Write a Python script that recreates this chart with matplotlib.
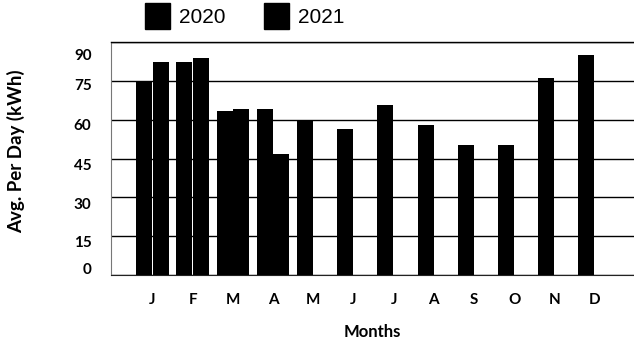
import matplotlib
matplotlib.use("Agg")
import matplotlib.pyplot as plt
from matplotlib.patches import Patch
from matplotlib import font_manager
import matplotlib.transforms as mtransforms
import numpy as np

months = ["J", "F", "M", "A", "M", "J", "J", "A", "S", "O", "N", "D"]
usage_2020 = [74.7, 82.2, 63.4, 64.3, 59.3, 56.4, 65.8, 58.1, 50.3, 50.3, 76.0, 84.8]
usage_2021 = [82.2, 84.0, 64.3, 46.7]
y_ticks = [0, 15, 30, 45, 60, 75, 90]

names = {f.name for f in font_manager.fontManager.ttflist}
label_font = "Lato" if "Lato" in names else "DejaVu Sans"
legend_font = "Liberation Sans"

fig = plt.figure(figsize=(6.34, 3.45), dpi=100)
ax = fig.add_axes([111 / 634, 70 / 345, 1 - 111 / 634, 233 / 345])

x = np.arange(len(months))
bw = 0.4
off = 0.205
ax.bar(x - off, usage_2020, width=bw, color="black", zorder=3)
ax.bar(np.arange(len(usage_2021)) + off, usage_2021, width=bw, color="black", zorder=3)

ax.set_xlim(-1.03, 11.98)
ax.set_ylim(0, 90)
ax.set_yticks(y_ticks)
ax.set_xticks(x)
ax.set_xticklabels(months)
ax.yaxis.grid(True, color="black", linewidth=1.0, zorder=1)
ax.tick_params(axis="both", length=0, labelsize=11)
ax.tick_params(axis="x", pad=13)
ax.tick_params(axis="y", pad=14)
for lbl in ax.get_xticklabels() + ax.get_yticklabels():
    lbl.set_fontfamily(label_font)
    lbl.set_fontweight("bold")

# y labels sit a little below their gridlines; the end labels are pulled inward
nudges_px = [7, -5, -6, -6, -5, -4, -12]
for lbl, dy in zip(ax.get_yticklabels(), nudges_px):
    shift = mtransforms.ScaledTranslation(0, dy / 100, fig.dpi_scale_trans)
    lbl.set_transform(lbl.get_transform() + shift)

ax.spines["right"].set_visible(False)
ax.spines["top"].set_color("black")
ax.spines["top"].set_linewidth(1.0)
ax.spines["bottom"].set_color("#222222")
ax.spines["left"].set_color("#777777")
ax.spines["left"].set_linewidth(0.8)

ax.set_xlabel("Months", fontfamily=label_font, fontweight="bold", fontsize=12, labelpad=12)
ax.set_ylabel("Avg. Per Day (kWh)", fontfamily=label_font, fontweight="bold", fontsize=13.5)
ax.yaxis.set_label_coords(-86 / 523, 0.53)

handles = [Patch(facecolor="black", edgecolor="black"), Patch(facecolor="black", edgecolor="black")]
fig.legend(handles, ["2020", "2021"], loc="upper left", bbox_to_anchor=(145 / 634, 1 - 3 / 345),
           ncol=2, frameon=False, borderpad=0, borderaxespad=0,
           handlelength=1.2, handleheight=1.55, handletextpad=0.43,
           columnspacing=1.83, prop={"family": legend_font, "size": 15})

fig.savefig("out.png", dpi=100)
